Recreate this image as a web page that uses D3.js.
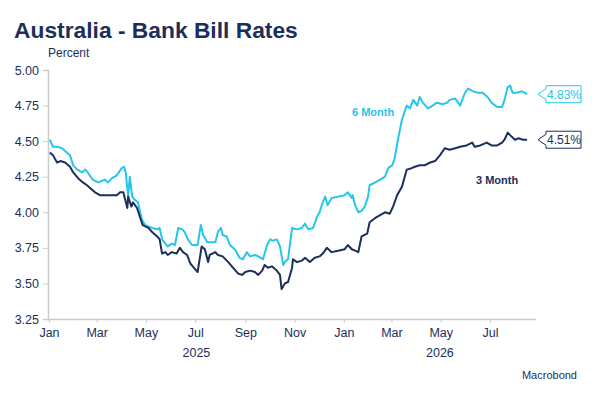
<!DOCTYPE html>
<html>
<head>
<meta charset="utf-8">
<script src="https://cdn.jsdelivr.net/npm/d3@7"></script>
<style>
  body { margin: 0; background: #fff; }
  text { font-family: "Liberation Sans", Arial, sans-serif; }
</style>
</head>
<body>
<div id="chart"></div>
<script>
// 6 month bank bill rate, [date, percent]
var sixMonth = [
    ["2025-01-02", 4.51], ["2025-01-06", 4.46], ["2025-01-12", 4.46], ["2025-01-17", 4.45],
    ["2025-01-23", 4.42], ["2025-01-27", 4.40], ["2025-01-31", 4.33], ["2025-02-05", 4.30],
    ["2025-02-11", 4.28], ["2025-02-15", 4.30], ["2025-02-18", 4.28], ["2025-02-24", 4.23],
    ["2025-03-03", 4.21], ["2025-03-11", 4.23], ["2025-03-15", 4.21], ["2025-03-20", 4.24],
    ["2025-03-26", 4.26], ["2025-04-01", 4.31], ["2025-04-04", 4.32], ["2025-04-06", 4.28],
    ["2025-04-09", 4.11], ["2025-04-11", 4.25], ["2025-04-14", 4.11], ["2025-04-17", 4.09],
    ["2025-04-21", 4.07], ["2025-04-26", 3.95], ["2025-04-30", 3.91], ["2025-05-04", 3.90],
    ["2025-05-09", 3.89], ["2025-05-15", 3.88], ["2025-05-18", 3.89], ["2025-05-21", 3.81],
    ["2025-05-25", 3.78], ["2025-05-28", 3.76], ["2025-06-02", 3.78], ["2025-06-06", 3.77],
    ["2025-06-10", 3.89], ["2025-06-15", 3.88], ["2025-06-18", 3.86], ["2025-06-22", 3.81],
    ["2025-06-27", 3.77], ["2025-07-01", 3.77], ["2025-07-04", 3.77], ["2025-07-08", 3.91],
    ["2025-07-11", 3.84], ["2025-07-16", 3.79], ["2025-07-19", 3.79], ["2025-07-26", 3.79],
    ["2025-07-29", 3.86], ["2025-08-02", 3.89], ["2025-08-04", 3.84], ["2025-08-09", 3.83],
    ["2025-08-13", 3.77], ["2025-08-19", 3.74], ["2025-08-25", 3.68], ["2025-08-29", 3.67],
    ["2025-09-03", 3.72], ["2025-09-07", 3.69], ["2025-09-13", 3.70], ["2025-09-17", 3.69],
    ["2025-09-23", 3.67], ["2025-09-28", 3.77], ["2025-10-02", 3.81], ["2025-10-05", 3.80],
    ["2025-10-10", 3.81], ["2025-10-14", 3.76], ["2025-10-18", 3.63], ["2025-10-20", 3.65],
    ["2025-10-24", 3.67], ["2025-10-29", 3.89], ["2025-11-04", 3.88], ["2025-11-10", 3.89],
    ["2025-11-14", 3.92], ["2025-11-18", 3.88], ["2025-11-24", 3.89], ["2025-11-29", 3.97],
    ["2025-12-02", 4.00], ["2025-12-06", 4.07], ["2025-12-09", 4.11], ["2025-12-12", 4.05],
    ["2025-12-17", 4.10], ["2025-12-25", 4.11], ["2026-01-02", 4.12], ["2026-01-06", 4.14],
    ["2026-01-11", 4.10], ["2026-01-12", 4.12], ["2026-01-15", 4.05], ["2026-01-19", 4.00],
    ["2026-01-23", 4.01], ["2026-01-27", 4.04], ["2026-01-31", 4.11], ["2026-02-02", 4.19],
    ["2026-02-09", 4.21], ["2026-02-15", 4.23], ["2026-02-21", 4.25], ["2026-02-25", 4.31],
    ["2026-03-02", 4.33], ["2026-03-05", 4.38], ["2026-03-09", 4.51], ["2026-03-14", 4.65],
    ["2026-03-18", 4.72], ["2026-03-20", 4.75], ["2026-03-24", 4.73], ["2026-03-28", 4.79],
    ["2026-04-02", 4.75], ["2026-04-05", 4.81], ["2026-04-09", 4.77], ["2026-04-15", 4.73],
    ["2026-04-21", 4.75], ["2026-04-26", 4.77], ["2026-05-04", 4.76], ["2026-05-09", 4.77],
    ["2026-05-12", 4.79], ["2026-05-19", 4.80], ["2026-05-25", 4.75], ["2026-05-31", 4.84],
    ["2026-06-04", 4.87], ["2026-06-10", 4.85], ["2026-06-16", 4.84], ["2026-06-22", 4.84],
    ["2026-06-28", 4.81], ["2026-07-03", 4.77], ["2026-07-10", 4.74], ["2026-07-16", 4.74],
    ["2026-07-19", 4.79], ["2026-07-23", 4.88], ["2026-07-26", 4.89], ["2026-07-29", 4.84],
    ["2026-08-03", 4.84], ["2026-08-10", 4.85], ["2026-08-13", 4.84], ["2026-08-16", 4.83]
];

// 3 month bank bill rate, [date, percent]
var threeMonth = [
    ["2025-01-02", 4.42], ["2025-01-06", 4.40], ["2025-01-11", 4.35], ["2025-01-15", 4.36],
    ["2025-01-21", 4.35], ["2025-01-27", 4.32], ["2025-01-31", 4.28], ["2025-02-06", 4.24],
    ["2025-02-12", 4.21], ["2025-02-17", 4.19], ["2025-02-23", 4.16], ["2025-02-27", 4.14],
    ["2025-03-05", 4.12], ["2025-03-14", 4.12], ["2025-03-20", 4.12], ["2025-03-26", 4.12],
    ["2025-03-30", 4.14], ["2025-04-03", 4.14], ["2025-04-08", 4.03], ["2025-04-09", 4.11],
    ["2025-04-13", 4.04], ["2025-04-15", 4.07], ["2025-04-20", 4.03], ["2025-04-24", 3.96],
    ["2025-04-27", 3.91], ["2025-05-04", 3.89], ["2025-05-09", 3.86], ["2025-05-15", 3.83],
    ["2025-05-18", 3.81], ["2025-05-21", 3.71], ["2025-05-25", 3.72], ["2025-05-28", 3.70],
    ["2025-06-02", 3.72], ["2025-06-08", 3.71], ["2025-06-12", 3.75], ["2025-06-16", 3.72],
    ["2025-06-21", 3.70], ["2025-06-25", 3.64], ["2025-06-28", 3.62], ["2025-07-04", 3.58],
    ["2025-07-09", 3.76], ["2025-07-13", 3.74], ["2025-07-17", 3.65], ["2025-07-19", 3.70],
    ["2025-07-26", 3.72], ["2025-07-29", 3.70], ["2025-08-04", 3.69], ["2025-08-11", 3.65],
    ["2025-08-17", 3.61], ["2025-08-23", 3.57], ["2025-08-28", 3.56], ["2025-09-01", 3.58],
    ["2025-09-07", 3.59], ["2025-09-13", 3.58], ["2025-09-17", 3.56], ["2025-09-22", 3.59],
    ["2025-09-25", 3.63], ["2025-09-29", 3.61], ["2025-10-04", 3.62], ["2025-10-10", 3.59],
    ["2025-10-14", 3.56], ["2025-10-16", 3.46], ["2025-10-20", 3.50], ["2025-10-24", 3.51],
    ["2025-10-29", 3.61], ["2025-10-30", 3.67], ["2025-11-04", 3.65], ["2025-11-10", 3.66],
    ["2025-11-14", 3.68], ["2025-11-20", 3.65], ["2025-11-26", 3.68], ["2025-12-02", 3.69],
    ["2025-12-06", 3.71], ["2025-12-11", 3.75], ["2025-12-17", 3.72], ["2025-12-25", 3.73],
    ["2026-01-02", 3.74], ["2026-01-06", 3.77], ["2026-01-11", 3.74], ["2026-01-15", 3.73],
    ["2026-01-19", 3.72], ["2026-01-23", 3.83], ["2026-01-30", 3.85], ["2026-02-02", 3.93],
    ["2026-02-09", 3.96], ["2026-02-15", 3.98], ["2026-02-21", 4.00], ["2026-02-27", 3.99],
    ["2026-03-03", 4.04], ["2026-03-08", 4.12], ["2026-03-14", 4.18], ["2026-03-20", 4.30],
    ["2026-03-26", 4.31], ["2026-03-30", 4.32], ["2026-04-05", 4.33], ["2026-04-11", 4.33],
    ["2026-04-18", 4.35], ["2026-04-24", 4.36], ["2026-04-30", 4.40], ["2026-05-06", 4.45],
    ["2026-05-12", 4.44], ["2026-05-19", 4.45], ["2026-05-25", 4.46], ["2026-06-02", 4.47],
    ["2026-06-09", 4.49], ["2026-06-12", 4.46], ["2026-06-19", 4.47], ["2026-06-27", 4.49],
    ["2026-07-03", 4.47], ["2026-07-10", 4.47], ["2026-07-16", 4.49], ["2026-07-19", 4.51],
    ["2026-07-23", 4.56], ["2026-07-28", 4.53], ["2026-08-01", 4.51], ["2026-08-05", 4.52],
    ["2026-08-11", 4.51], ["2026-08-16", 4.51]
];

var yTicks = [3.25, 3.50, 3.75, 4.00, 4.25, 4.50, 4.75, 5.00];
var years = [["2025-01-01", "2026-01-01", "2025"], ["2026-01-01", "2026-08-27", "2026"]];

var navy = "#1c2f5a";
var cyan = "#25c6ec";
var parse = d3.timeParse("%Y-%m-%d");

var svg = d3.select("#chart")
    .append("svg")
    .attr("width", 597)
    .attr("height", 400);

var x = d3.scaleTime()
    .domain([parse("2025-01-01"), parse("2026-08-27")])
    .range([49, 536]);

var y = d3.scaleLinear()
    .domain([3.25, 5.00])
    .range([319, 70]);

// title
svg.append("text")
    .attr("x", 14)
    .attr("y", 38)
    .attr("fill", navy)
    .style("font-size", "22.8px")
    .style("font-weight", "bold")
    .text("Australia - Bank Bill Rates");

svg.append("text")
    .attr("x", 48)
    .attr("y", 57)
    .attr("fill", navy)
    .style("font-size", "12px")
    .text("Percent");

// y axis
var yAxis = svg.append("g")
    .attr("transform", "translate(48,0)")
    .call(d3.axisLeft(y).tickValues(yTicks).tickFormat(d3.format(".2f")).tickSize(5).tickPadding(4));

// x axis
var xAxis = svg.append("g")
    .attr("transform", "translate(0,319)")
    .call(d3.axisBottom(x).ticks(d3.timeMonth.every(2)).tickFormat(d3.timeFormat("%b")).tickSize(4).tickPadding(5));

xAxis.selectAll(".domain").attr("d", "M48,0.5H536");

[xAxis, yAxis].forEach(function(g) {
    g.select(".domain").attr("stroke", "#cccccc").attr("stroke-width", 1.5);
    g.selectAll(".tick line").attr("stroke", "#cccccc");
    g.selectAll(".tick text")
        .attr("fill", navy)
        .style("font-size", "12.5px")
        .style("font-family", "'Liberation Sans', Arial, sans-serif");
});

svg.selectAll("text.year")
    .data(years)
    .enter()
    .append("text")
    .attr("class", "year")
    .attr("x", function(d){return (x(parse(d[0])) + x(parse(d[1]))) / 2})
    .attr("y", 357)
    .attr("text-anchor", "middle")
    .attr("fill", navy)
    .style("font-size", "12.5px")
    .text(function(d){return d[2]});

// lines
var line = d3.line()
    .x(function(d){return x(parse(d[0]))})
    .y(function(d){return y(d[1])});

svg.append("path")
    .datum(sixMonth)
    .attr("d", line)
    .attr("fill", "none")
    .attr("stroke", cyan)
    .attr("stroke-width", 2)
    .attr("stroke-linejoin", "round");

svg.append("path")
    .datum(threeMonth)
    .attr("d", line)
    .attr("fill", "none")
    .attr("stroke", navy)
    .attr("stroke-width", 2)
    .attr("stroke-linejoin", "round");

// series labels
svg.append("text")
    .attr("x", 352)
    .attr("y", 116)
    .attr("fill", cyan)
    .style("font-size", "11px")
    .style("font-weight", "bold")
    .text("6 Month");

svg.append("text")
    .attr("x", 476)
    .attr("y", 184)
    .attr("fill", navy)
    .style("font-size", "11px")
    .style("font-weight", "bold")
    .text("3 Month");

// last value tags
var last = [[sixMonth[sixMonth.length - 1][1], cyan], [threeMonth[threeMonth.length - 1][1], navy]];

var tags = svg.selectAll("g.tag")
    .data(last)
    .enter()
    .append("g")
    .attr("class", "tag")
    .attr("transform", function(d){return "translate(538," + y(d[0]) + ")"});

tags.append("path")
    .attr("d", "M0,0L8,-5.5V-8.5H43V8.5H8V5.5Z")
    .attr("fill", "#fff")
    .attr("stroke", function(d){return d[1]})
    .attr("stroke-width", 1);

tags.append("text")
    .attr("x", 26)
    .attr("y", 4.5)
    .attr("text-anchor", "middle")
    .attr("fill", function(d){return d[1]})
    .style("font-size", "12px")
    .text(function(d){return d3.format(".2f")(d[0]) + "%"});

svg.append("text")
    .attr("x", 577)
    .attr("y", 379)
    .attr("text-anchor", "end")
    .attr("fill", navy)
    .style("font-size", "11px")
    .text("Macrobond");
</script>
</body>
</html>
